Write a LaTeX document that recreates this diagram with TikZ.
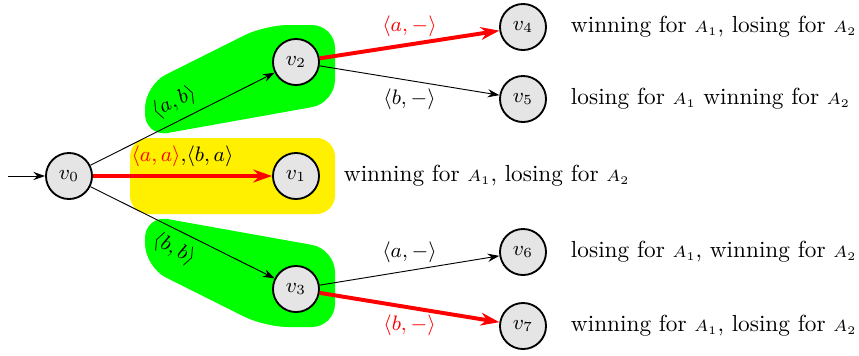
\documentclass[tikz,border=0pt]{standalone}
\usetikzlibrary{arrows.meta}
\definecolor{myyellow}{RGB}{255,240,0}
\definecolor{mygreen}{RGB}{0,255,0}
\begin{document}
\begin{tikzpicture}[x=0.43pt,y=-0.43pt,
 state/.style={circle,draw,thick,fill=gray!20,minimum size=19.8pt,inner sep=0pt,font=\small},
 edge/.style={-{Stealth[length=5pt,width=3.5pt]},thin},
 win/.style={-{Stealth[length=8pt,width=5.5pt]},red,line width=1.7pt},
 lbl/.style={font=\small},
 desc/.style={anchor=west}
]
\useasboundingbox (0,0) rectangle (859,355);
% regions
\fill[mygreen,rounded corners=10pt] (145,137) -- (145,85) -- (265,25) -- (335,25) -- (335,103) -- cycle;
\fill[mygreen,rounded corners=10pt] (145,215) -- (145,267) -- (265,327) -- (335,327) -- (335,249) -- cycle;
\fill[myyellow,rounded corners=8pt] (130,138) rectangle (335,214);
% nodes
\node[state] (v0) at (69,176) {$v_0$};
\node[state] (v1) at (296,176) {$v_1$};
\node[state] (v2) at (296,62) {$v_2$};
\node[state] (v3) at (296,289) {$v_3$};
\node[state] (v4) at (523,27) {$v_4$};
\node[state] (v5) at (523,99) {$v_5$};
\node[state] (v6) at (523,252) {$v_6$};
\node[state] (v7) at (523,326) {$v_7$};
\coordinate (init) at (8,176);
% edges
\draw[edge] (init) -- (v0);
\draw[win] (v0) -- node[lbl,above,pos=0.5,text=black] {{\color{red}$\langle a,a\rangle$},$\langle b,a\rangle$} (v1);
\draw[edge] (v0) -- node[lbl,sloped,above,pos=0.5] {$\langle a,b\rangle$} (v2);
\draw[edge] (v0) -- node[lbl,sloped,below,pos=0.5] {$\langle b,b\rangle$} (v3);
\draw[win] (v2) -- node[lbl,above,red,yshift=-1pt] {$\langle a,-\rangle$} (v4);
\draw[edge] (v2) -- node[lbl,below] {$\langle b,-\rangle$} (v5);
\draw[edge] (v3) -- node[lbl,above] {$\langle a,-\rangle$} (v6);
\draw[win] (v3) -- node[lbl,below,red,yshift=1pt] {$\langle b,-\rangle$} (v7);
% descriptions
\node[desc] (t1) at ([xshift=6.8pt]v1.east) {winning for $\scriptstyle A_1$, losing for $\scriptstyle A_2$};
\node[desc] (t4) at ([xshift=6.8pt]v4.east) {winning for $\scriptstyle A_1$, losing for $\scriptstyle A_2$};
\node[desc] (t5) at ([xshift=6.8pt]v5.east) {losing for $\scriptstyle A_1$ winning for $\scriptstyle A_2$};
\node[desc] (t6) at ([xshift=6.8pt]v6.east) {losing for $\scriptstyle A_1$, winning for $\scriptstyle A_2$};
\node[desc] (t7) at ([xshift=6.8pt]v7.east) {winning for $\scriptstyle A_1$, losing for $\scriptstyle A_2$};
\end{tikzpicture}
\end{document}
